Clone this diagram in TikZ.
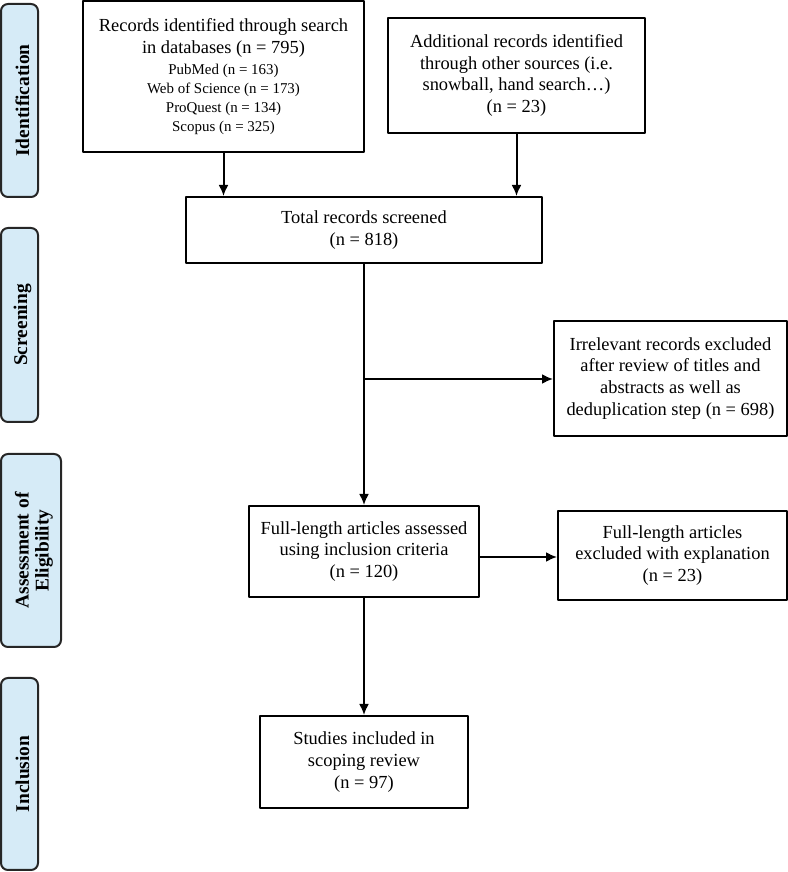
\documentclass[tikz,border=0pt]{standalone}
\usepackage{fontspec}
\setmainfont{Liberation Serif}
\usepackage{tikz}
\usetikzlibrary{arrows.meta}
\usetikzlibrary{positioning}
\definecolor{bandfill}{rgb}{0.84,0.92,0.97}
\definecolor{bandline}{rgb}{0.15,0.15,0.15}
\tikzset{
  box/.style={draw,line width=2bp,align=center,inner sep=0pt,
    font=\fontsize{18.5}{22}\selectfont},
  band/.style={draw=bandline,fill=bandfill,line width=2bp,rounded corners=7bp,
    inner sep=0pt},
  bandtext/.style={xshift=3bp,rotate=90,align=center,font=\fontsize{19.5}{20}\selectfont\bfseries},
  link/.style={line width=2bp,->},
}
\newcommand{\dbline}[1]{{\fontsize{15}{19}\selectfont #1}}
\begin{document}
\begin{tikzpicture}[>={Latex[length=11bp,width=10bp]},line join=bevel,]
\useasboundingbox (0bp,0bp) rectangle (788bp,872bp);
%%
  \node (bident) at (19.5bp,771.5bp) [band,minimum width=37bp,minimum height=193bp] {};
  \node at (bident) [bandtext] {Identification};
  \node (bscreen) at (19.5bp,547bp) [band,minimum width=37bp,minimum height=194bp] {};
  \node at (bscreen) [bandtext] {Screening};
  \node (belig) at (31bp,321.5bp) [band,minimum width=60bp,minimum height=193bp] {};
  \node at (belig) [bandtext] {Assessment of\\Eligibility};
  \node (bincl) at (19.5bp,98bp) [band,minimum width=37bp,minimum height=192bp] {};
  \node at (bincl) [bandtext] {Inclusion};
%%
  \node (db) at (223.5bp,795.5bp) [box,minimum width=281bp,minimum height=151bp]
    {Records identified through search\\in databases (n = 795)\\[-1bp]
     \dbline{PubMed (n = 163)}\\[-3bp]
     \dbline{Web of Science (n = 173)}\\[-3bp]
     \dbline{ProQuest (n = 134)}\\[-3bp]
     \dbline{Scopus (n = 325)}};
  \node (other) at (516.5bp,796.5bp) [box,minimum width=257bp,minimum height=115bp]
    {Additional records identified\\through other sources (i.e.\\snowball, hand search\ldots)\\(n = 23)};
  \node (total) at (364bp,642bp) [box,minimum width=356bp,minimum height=66bp]
    {Total records screened\\(n = 818)};
  \node (irrel) at (670.5bp,493.5bp) [box,minimum width=233bp,minimum height=115bp]
    {Irrelevant records excluded\\after review of titles and\\abstracts as well as\\deduplication step (n = 698)};
  \node (full) at (364bp,320.5bp) [box,minimum width=230bp,minimum height=91bp]
    {Full-length articles assessed\\using inclusion criteria\\(n = 120)};
  \node (excl) at (672.5bp,316.5bp) [box,minimum width=229bp,minimum height=89bp]
    {Full-length articles\\excluded with explanation\\(n = 23)};
  \node (incl) at (364bp,110bp) [box,minimum width=208bp,minimum height=92bp]
    {Studies included in\\scoping review\\(n = 97)};
  \coordinate (split) at (364bp,493bp);
%%
  \draw [link] (db.south) -- (db.south |- total.north);
  \draw [link] (other.south) -- (other.south |- total.north);
  \draw [link] (total) -- (full);
  \draw [link] (split) -- (split -| irrel.west);
  \draw [link] (full.east |- 0,315bp) -- (excl.west |- 0,315bp);
  \draw [link] (full) -- (incl);
%
\end{tikzpicture}
\end{document}
